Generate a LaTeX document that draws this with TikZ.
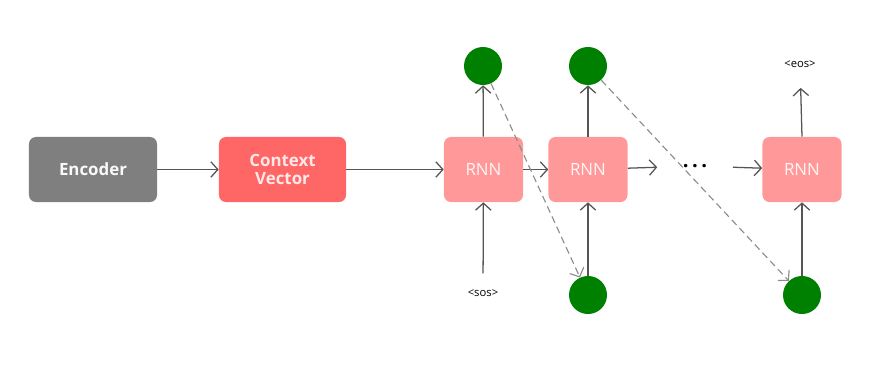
\documentclass[tikz,border=0pt]{standalone}
\usepackage{fontspec}
\setmainfont{Open Sans}
\usetikzlibrary{arrows.meta, positioning}

\definecolor{encgray}{HTML}{7F7F7F}
\definecolor{ctxred}{HTML}{FF6666}
\definecolor{rnnpink}{HTML}{FF9999}
\definecolor{outgreen}{HTML}{008000}
\definecolor{linegray}{HTML}{555555}
\definecolor{dashgray}{HTML}{8C8C8C}

\begin{document}
\begin{tikzpicture}[
    x=0.025cm, y=-0.025cm,
    block/.style={
        rounded corners=5pt,
        minimum height=1.625cm,
        align=center,
        inner sep=0pt
    },
    rnn/.style={
        block,
        fill=rnnpink,
        minimum width=1.975cm,
        text=white!90!rnnpink,
        font=\large
    },
    token/.style={
        circle,
        fill=outgreen,
        minimum size=0.95cm,
        inner sep=0pt
    },
    arrow/.style={-{Straight Barb[length=5pt,width=11pt]}, linegray, line width=0.9pt},
    feed/.style={-{Straight Barb[length=5pt,width=11pt]}, dashgray, line width=0.8pt, dash pattern=on 5pt off 3pt}
]
\useasboundingbox (0,0) rectangle (877,368);

\node[block, fill=encgray, minimum width=3.2cm, text=white!95!encgray, font=\large\bfseries] (encoder) at (93,169.5) {Encoder};
\node[block, fill=ctxred, minimum width=3.175cm, text=white!85!ctxred, font=\large\bfseries] (context) at (282.5,169.5) {Context\\[-1pt]Vector};

\node[rnn] (rnnA) at (483.5,169.5) {RNN};
\node[rnn] (rnnB) at (588,169.5) {RNN};
\node[rnn] (rnnC) at (802,169.5) {RNN};
\node[minimum width=1.875cm, font=\Large\bfseries] (dots) at (695,166) {.\,.\,.};

\node[token] (outA) at (483,66) {};
\node[token] (outB) at (588,66) {};
\node[token] (inB) at (588,295) {};
\node[token] (inC) at (802,295) {};

\node[font=\footnotesize] (sos) at (483,293) {<sos>};
\node[font=\footnotesize] (eos) at (800,64) {<eos>};

\draw[arrow] (encoder) -- (context);
\draw[arrow] (context) -- (rnnA);
\draw[arrow] (rnnA) -- (rnnB);
\draw[arrow] (rnnB) -- (dots);
\draw[arrow] (dots) -- (rnnC);

\draw[arrow] (rnnA) -- (outA);
\draw[arrow] (rnnB) -- (outB);
\draw[arrow, shorten >=11pt] (rnnC.north) -- (eos);
\draw[arrow, shorten <=8pt] (sos) -- (rnnA);
\draw[arrow] (inB) -- (rnnB);
\draw[arrow] (inC) -- (rnnC);

\draw[feed] (outA) -- (inB);
\draw[feed] (outB) -- (inC);
\end{tikzpicture}
\end{document}
